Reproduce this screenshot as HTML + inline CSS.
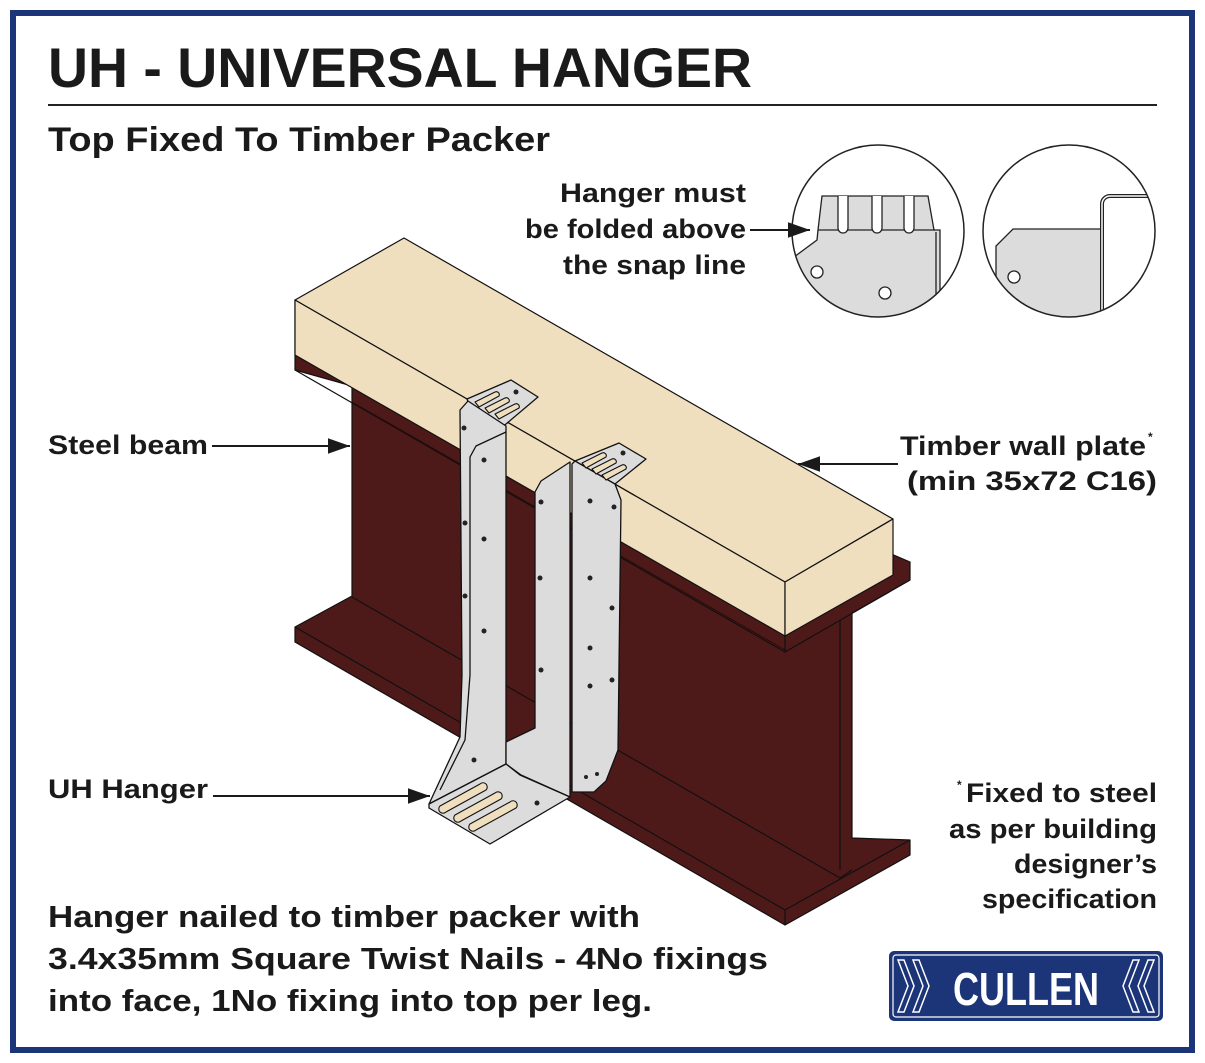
<!DOCTYPE html>
<html><head><meta charset="utf-8"><style>
html,body{margin:0;padding:0;background:#fff;}
svg{display:block;}
text{font-family:"Liberation Sans",sans-serif;font-weight:bold;fill:#1a1a1a;}
</style></head><body>
<svg width="1205" height="1063" viewBox="0 0 1205 1063" xmlns="http://www.w3.org/2000/svg">
<defs>
<marker id="ah" viewBox="0 0 20 14" refX="20" refY="7" markerWidth="22" markerHeight="16" orient="auto" markerUnits="userSpaceOnUse"><path d="M0,0 L20,7 L0,14 z" fill="#1a1a1a"/></marker>
<clipPath id="c1"><circle cx="878" cy="231" r="86"/></clipPath>
<clipPath id="c2"><circle cx="1069" cy="231" r="86"/></clipPath>
</defs>
<rect x="0" y="0" width="1205" height="1063" fill="#fff"/>
<rect x="13" y="13" width="1179" height="1037" fill="none" stroke="#1c3478" stroke-width="6"/>

<text x="48" y="87" font-size="56" textLength="704" lengthAdjust="spacingAndGlyphs">UH - UNIVERSAL HANGER</text>
<line x1="48" y1="105" x2="1157" y2="105" stroke="#222" stroke-width="2"/>
<text x="48" y="151" font-size="34" textLength="502" lengthAdjust="spacingAndGlyphs">Top Fixed To Timber Packer</text>

<!-- steel beam -->
<g stroke="#111" stroke-width="1.2" stroke-linejoin="round">
<polygon points="295,300 910,562 910,580 852,613 852,838 910,840 910,855 785,925 295,642 295,627 352,596 352,386 295,370" fill="#4e1a19"/>
<polyline points="295,370 785,652 910,580" fill="none"/>
<line x1="785" y1="636" x2="785" y2="652"/>
<line x1="840" y1="620" x2="840" y2="870"/>
<polyline points="352,597 840,878 852,870" fill="none"/>
<polyline points="295,627 785,910 910,840" fill="none"/>
<line x1="785" y1="910" x2="785" y2="925"/>
<line x1="352" y1="402" x2="785" y2="650" stroke="#2a0a0a" stroke-width="1"/>
<!-- timber -->
<polygon points="295,300 404,238 893,519 785,582" fill="#f0dfbe"/>
<polygon points="295,300 785,582 785,636 295,355" fill="#f0dfbe"/>
<polygon points="785,582 893,519 893,575 785,636" fill="#f0dfbe"/>
</g>

<!-- left hanger -->
<g stroke="#111" stroke-width="1.3" stroke-linejoin="round" fill="#dcdcdc">
<polygon points="467,399 511,380 538,397 506,424 500,428 470,407"/>
<polygon points="460,410 468,401 506,426 506,764 429,804 460,737 462,675"/>
<polyline points="506,432 476,446 470,457 470,675 465,740 440,790" fill="none"/>
<polygon points="535,492 541,481 570,462 570,797 521,775 506,764 506,742 535,728"/>
<polygon points="429,804 506,764 520,775 570,797 490,844 429,808"/>
<g fill="#f0dfbe" stroke-width="1.1">
<path d="M440,806 l40,-22 a4,4 0 0 1 6,6 l-40,22 a4,4 0 0 1 -6,-6z"/>
<path d="M455,815 l40,-22 a4,4 0 0 1 6,6 l-40,22 a4,4 0 0 1 -6,-6z"/>
<path d="M470,824 l40,-22 a4,4 0 0 1 6,6 l-40,22 a4,4 0 0 1 -6,-6z"/>
<path d="M475,402 l20,-10 a3,3 0 0 1 4,4 l-20,11z"/>
<path d="M485,408 l20,-10 a3,3 0 0 1 4,4 l-20,11z"/>
<path d="M495,414 l20,-10 a3,3 0 0 1 4,4 l-20,11z"/>
</g>
<!-- right hanger -->
<polygon points="575,461 619,443 646,459 615,484 606,486 578,468"/>
<polygon points="572,464 575,461 615,484 621,500 618,750 606,781 594,792 572,792"/>
<g fill="#f0dfbe" stroke-width="1.1">
<path d="M582,463 l20,-10 a3,3 0 0 1 4,4 l-20,11z"/>
<path d="M592,469 l20,-10 a3,3 0 0 1 4,4 l-20,11z"/>
<path d="M602,475 l20,-10 a3,3 0 0 1 4,4 l-20,11z"/>
</g>
</g>
<g fill="#222">
<circle cx="464" cy="428" r="2.5"/><circle cx="484" cy="460" r="2.5"/><circle cx="465" cy="523" r="2.5"/><circle cx="484" cy="539" r="2.5"/>
<circle cx="465" cy="596" r="2.5"/><circle cx="484" cy="631" r="2.5"/><circle cx="474" cy="760" r="2.5"/><circle cx="537" cy="803" r="2.5"/>
<circle cx="541" cy="502" r="2.5"/><circle cx="540" cy="578" r="2.5"/><circle cx="541" cy="670" r="2.5"/>
<circle cx="590" cy="501" r="2.5"/><circle cx="614" cy="507" r="2.5"/><circle cx="590" cy="578" r="2.5"/><circle cx="612" cy="608" r="2.5"/>
<circle cx="590" cy="648" r="2.5"/><circle cx="590" cy="686" r="2.5"/><circle cx="612" cy="680" r="2.5"/><circle cx="586" cy="777" r="2"/><circle cx="597" cy="774" r="2"/>
<circle cx="623" cy="453" r="2.5"/><circle cx="516" cy="392" r="2.5"/>
</g>

<!-- detail circles -->
<g clip-path="url(#c1)" stroke="#222" stroke-width="1.3">
<path d="M822,196 L928,196 L934,230 L940,230 L940,330 L790,330 L790,260 L817,240 L818,230 Z" fill="#dcdcdc"/>
<line x1="818" y1="230" x2="935" y2="230"/>
<line x1="936" y1="232" x2="936" y2="330"/>
<path d="M838,196 v32 a5,5 0 0 0 10,0 v-32" fill="#fff"/>
<path d="M872,196 v32 a5,5 0 0 0 10,0 v-32" fill="#fff"/>
<path d="M904,196 v32 a5,5 0 0 0 10,0 v-32" fill="#fff"/>
<circle cx="817" cy="272" r="6" fill="#fff"/>
<circle cx="885" cy="293" r="6" fill="#fff"/>
</g>
<circle cx="878" cy="231" r="86" fill="none" stroke="#222" stroke-width="1.5"/>
<g clip-path="url(#c2)" stroke="#222" stroke-width="1.3">
<path d="M1013,229 L1102,229 L1102,330 L996,330 L996,246 Z" fill="#dcdcdc"/>
<path d="M1102,330 V204 a8,8 0 0 1 8,-8 H1160" fill="none" stroke-width="4"/>
<path d="M1102,330 V204 a8,8 0 0 1 8,-8 H1160" fill="none" stroke="#fff" stroke-width="1.5"/>
<circle cx="1014" cy="277" r="6" fill="#fff"/>
</g>
<circle cx="1069" cy="231" r="86" fill="none" stroke="#222" stroke-width="1.5"/>

<!-- leaders -->
<g stroke="#1a1a1a" stroke-width="2">
<line x1="212" y1="446" x2="350" y2="446" marker-end="url(#ah)"/>
<line x1="213" y1="796" x2="430" y2="796" marker-end="url(#ah)"/>
<line x1="898" y1="464" x2="798" y2="464" marker-end="url(#ah)"/>
<line x1="750" y1="230" x2="810" y2="230" marker-end="url(#ah)"/>
</g>

<g font-size="27">
<text x="560" y="202" textLength="186" lengthAdjust="spacingAndGlyphs">Hanger must</text>
<text x="525" y="238" textLength="221" lengthAdjust="spacingAndGlyphs">be folded above</text>
<text x="563" y="274" textLength="183" lengthAdjust="spacingAndGlyphs">the snap line</text>
<text x="48" y="454" textLength="160" lengthAdjust="spacingAndGlyphs">Steel beam</text>
<text x="48" y="798" textLength="160" lengthAdjust="spacingAndGlyphs">UH Hanger</text>
<text x="900" y="455" textLength="246" lengthAdjust="spacingAndGlyphs">Timber wall plate</text>
<text x="1148" y="441" font-size="12">*</text>
<text x="907" y="490" textLength="250" lengthAdjust="spacingAndGlyphs">(min 35x72 C16)</text>
<text x="966" y="802" textLength="191" lengthAdjust="spacingAndGlyphs">Fixed to steel</text>
<text x="957" y="789" font-size="12">*</text>
<text x="949" y="838" textLength="208" lengthAdjust="spacingAndGlyphs">as per building</text>
<text x="1014" y="873" textLength="143" lengthAdjust="spacingAndGlyphs">designer’s</text>
<text x="982" y="908" textLength="175" lengthAdjust="spacingAndGlyphs">specification</text>
</g>
<g font-size="31">
<text x="48" y="927" textLength="592" lengthAdjust="spacingAndGlyphs">Hanger nailed to timber packer with</text>
<text x="48" y="969" textLength="720" lengthAdjust="spacingAndGlyphs">3.4x35mm Square Twist Nails - 4No fixings</text>
<text x="48" y="1011" textLength="604" lengthAdjust="spacingAndGlyphs">into face, 1No fixing into top per leg.</text>
</g>

<!-- logo -->
<rect x="889" y="951" width="274" height="70" rx="5" fill="#1c3478"/>
<rect x="893" y="955" width="266" height="62" rx="3" fill="none" stroke="#fff" stroke-width="1.2"/>
<g fill="none" stroke="#fff" stroke-width="1.5">
<path d="M898,960 l10,26 l-10,26 h6 l10,-26 l-10,-26z"/>
<path d="M913,960 l10,26 l-10,26 h6 l10,-26 l-10,-26z"/>
<path d="M1154,960 l-10,26 l10,26 h-6 l-10,-26 l10,-26z"/>
<path d="M1139,960 l-10,26 l10,26 h-6 l-10,-26 l10,-26z"/>
</g>
<text x="1026" y="1005" font-size="46" text-anchor="middle" style="fill:#fff" textLength="146" lengthAdjust="spacingAndGlyphs">CULLEN</text>
</svg>
</body></html>
